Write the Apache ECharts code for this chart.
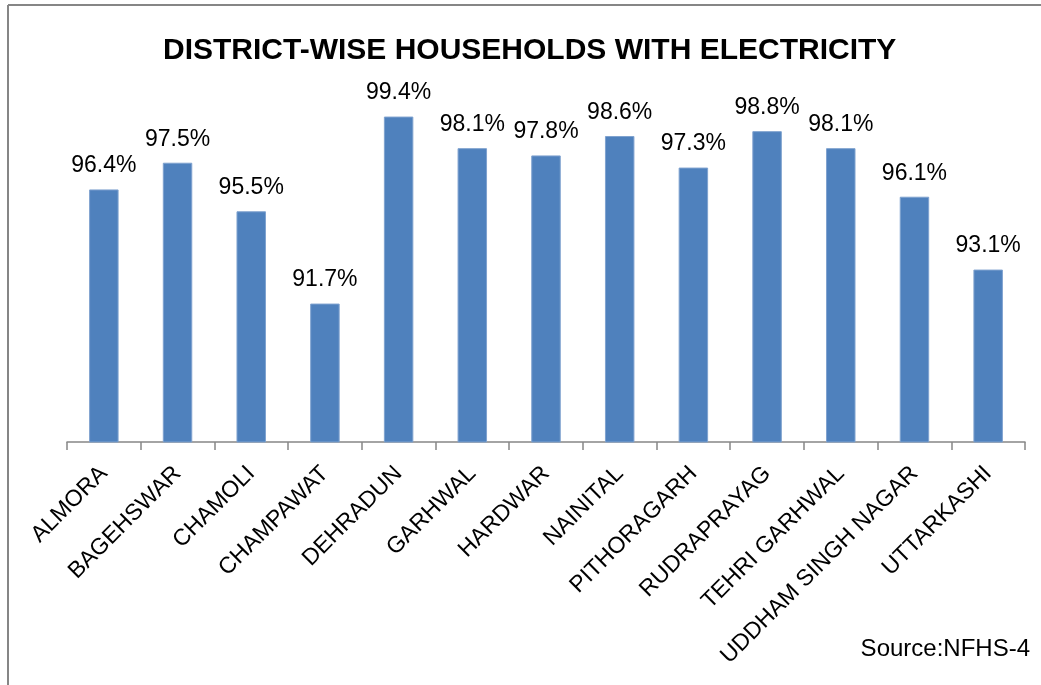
<!DOCTYPE html>
<html>
<head>
<meta charset="utf-8">
<script src="https://cdn.jsdelivr.net/npm/echarts@6/dist/echarts.min.js"></script>
<style>
html,body{margin:0;padding:0;background:#fff;}
#chart{width:1041px;height:685px;}
</style>
</head>
<body>
<div id="chart"></div>
<script>
const titleText = 'DISTRICT-WISE HOUSEHOLDS WITH ELECTRICITY';
const sourceText = 'Source:NFHS-4';
const districts = ['ALMORA','BAGEHSWAR','CHAMOLI','CHAMPAWAT','DEHRADUN','GARHWAL','HARDWAR','NAINITAL','PITHORAGARH','RUDRAPRAYAG','TEHRI GARHWAL','UDDHAM SINGH NAGAR','UTTARKASHI'];
const electricity = [96.4, 97.5, 95.5, 91.7, 99.4, 98.1, 97.8, 98.6, 97.3, 98.8, 98.1, 96.1, 93.1];

const chart = echarts.init(document.getElementById('chart'));
const font = 'Liberation Sans, Arial, sans-serif';
chart.setOption({
  backgroundColor: '#ffffff',
  animation: false,
  title: {
    text: titleText,
    left: 158,
    top: 31,
    textStyle: {fontFamily: font, fontSize: 30, fontWeight: 'bold', color: '#000'}
  },
  grid: {left: 67, right: 16, top: 102, bottom: 243, containLabel: false},
  xAxis: {
    type: 'category',
    data: districts,
    axisLine: {lineStyle: {color: '#868686', width: 1.5}},
    axisTick: {show: true, length: 8, lineStyle: {color: '#868686', width: 1.5}},
    axisLabel: {rotate: 45, margin: 28, fontFamily: font, fontSize: 23, color: '#000', interval: 0}
  },
  yAxis: {
    type: 'value',
    min: 86,
    max: 100,
    show: false,
    splitLine: {show: false}
  },
  series: [{
    type: 'bar',
    data: electricity,
    barWidth: '40%',
    itemStyle: {color: '#4F81BD', borderColor: '#7FA2CF', borderWidth: 1},
    label: {
      show: true,
      position: 'top',
      distance: 12,
      fontFamily: font,
      fontSize: 23,
      color: '#000',
      formatter: p => p.value.toFixed(1) + '%'
    }
  }],
  graphic: [
    {type: 'line', shape: {x1: 8, y1: 5, x2: 1041, y2: 5}, style: {stroke: '#868686', lineWidth: 2}},
    {type: 'line', shape: {x1: 8, y1: 5, x2: 8, y2: 685}, style: {stroke: '#868686', lineWidth: 2}},
    {type: 'text', right: 11, top: 637, style: {text: sourceText, font: '24px Liberation Sans, Arial, sans-serif', fill: '#000'}}
  ]
});
</script>
</body>
</html>
